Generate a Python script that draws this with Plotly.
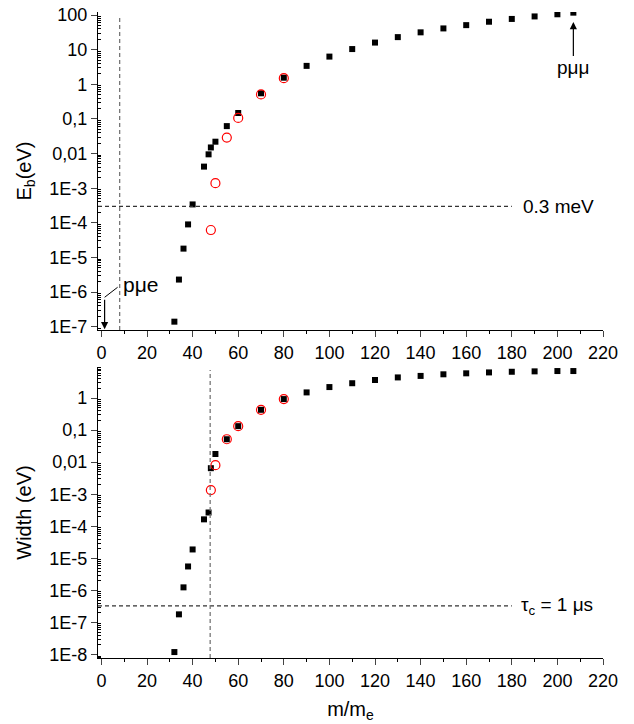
import plotly.graph_objects as go
from plotly.subplots import make_subplots

# mass ratio m/m_e
mass = [32, 34, 36, 38, 40, 45, 47, 48, 50, 55, 60, 70, 80, 90, 100, 110, 120,
        130, 140, 150, 160, 170, 180, 190, 200, 207]

# binding energy (eV), black squares
eb = [1.4e-7, 2.3e-6, 1.8e-5, 9.0e-5, 3.4e-4, 4.2e-3, 9.5e-3, 0.015, 0.022, 0.062,
      0.148, 0.55, 1.55, 3.4, 6.3, 10.4, 16, 23, 31.6, 41, 51, 64, 77, 91, 105, 117]

# width (eV), black squares
width = [1.2e-8, 1.8e-7, 1.25e-6, 5.6e-6, 1.9e-5, 1.65e-4, 2.7e-4, 6.5e-3, 0.018,
         0.052, 0.133, 0.43, 0.93, 1.5, 2.2, 2.9, 3.65, 4.4, 4.9, 5.5, 5.9, 6.3,
         6.6, 6.8, 6.95, 6.95]

# red open circles
mass_red = [48, 50, 55, 60, 70, 80]
eb_red = [6.2e-5, 1.4e-3, 0.029, 0.107, 0.51, 1.5]
width_red = [1.35e-3, 8.1e-3, 0.052, 0.133, 0.43, 0.93]

# reference lines
eb_line = 3e-4          # 0.3 meV
width_line = 3.3e-7     # tau_c = 1 mus
mass_line_top = 8
mass_line_bot = 47.7

x_ticks = [0, 20, 40, 60, 80, 100, 120, 140, 160, 180, 200, 220]
x_minor = [10, 30, 50, 70, 90, 110, 130, 150, 170, 190, 210]
top_vals = [1e-7, 1e-6, 1e-5, 1e-4, 1e-3, 0.01, 0.1, 1, 10, 100]
top_text = ["1E-7", "1E-6", "1E-5", "1E-4", "1E-3", "0,01", "0,1", "1", "10", "100"]
bot_vals = [1e-8, 1e-7, 1e-6, 1e-5, 1e-4, 1e-3, 0.01, 0.1, 1]
bot_text = ["1E-8", "1E-7", "1E-6", "1E-5", "1E-4", "1E-3", "0,01", "0,1", "1"]
minor_vals = [m * 10.0 ** k for k in range(-9, 3) for m in range(2, 10)]

FONT = "Liberation Sans, Arial, sans-serif"

fig = make_subplots(rows=2, cols=1, vertical_spacing=0.06)

fig.add_trace(go.Scatter(x=mass, y=eb, mode="markers",
                         marker=dict(symbol="square", size=6, color="black")), row=1, col=1)
fig.add_trace(go.Scatter(x=mass_red, y=eb_red, mode="markers",
                         marker=dict(symbol="circle-open", size=9, color="red",
                                     line=dict(width=1.2))), row=1, col=1)
fig.add_trace(go.Scatter(x=mass, y=width, mode="markers",
                         marker=dict(symbol="square", size=6, color="black")), row=2, col=1)
fig.add_trace(go.Scatter(x=mass_red, y=width_red, mode="markers",
                         marker=dict(symbol="circle-open", size=9, color="red",
                                     line=dict(width=1.2))), row=2, col=1)

xax = dict(range=[-1.5, 220], tickmode="array", tickvals=x_ticks, ticks="outside",
           ticklen=6, tickwidth=1.2, showline=True, linecolor="black", linewidth=1.3,
           showgrid=False, zeroline=False, tickfont=dict(size=18, color="black"),
           automargin=False,
           minor=dict(tickmode="array", tickvals=x_minor, ticks="outside", ticklen=3,
                      tickcolor="black", showgrid=False))
fig.update_xaxes(**xax)
fig.update_xaxes(domain=[0, 1])

yax = dict(type="log", ticks="outside", ticklen=6, tickwidth=1.2, showline=True,
           linecolor="black", linewidth=1.3, showgrid=False, zeroline=False,
           tickfont=dict(size=18, color="black"), tickmode="array",
           ticklabeloverflow="allow", automargin=False,
           minor=dict(tickmode="array", tickvals=minor_vals, ticks="inside", ticklen=3,
                      tickcolor="black", showgrid=False))
fig.update_yaxes(**yax)
fig.update_yaxes(domain=[0.5077, 1], range=[-7.095, 2.087], tickvals=top_vals,
                 ticktext=top_text, row=1, col=1,
                 title=dict(text="E<sub>b</sub>(eV)", font=dict(size=20), standoff=12))
fig.update_yaxes(domain=[0, 0.4505], range=[-8.106, 0.969], tickvals=bot_vals,
                 ticktext=bot_text, row=2, col=1,
                 title=dict(text="Width (eV)", font=dict(size=20), standoff=12))
fig.update_xaxes(row=2, col=1,
                 title=dict(text="m/m<sub>e</sub>", font=dict(size=20), standoff=12))

dash_h = dict(color="#333", width=1.2, dash="4px,3px")
dash_v = dict(color="#777", width=1.3, dash="4px,3px")
# top panel lines
fig.add_shape(type="line", xref="x domain", yref="y", x0=0, x1=(180 + 1.5) / 221.5,
              y0=eb_line, y1=eb_line, line=dash_h)
fig.add_shape(type="line", xref="x", yref="y domain", x0=mass_line_top, x1=mass_line_top,
              y0=0, y1=0.99, line=dash_v)
# bottom panel lines
fig.add_shape(type="line", xref="x2 domain", yref="y2", x0=0, x1=(180 + 1.5) / 221.5,
              y0=width_line, y1=width_line, line=dash_h)
fig.add_shape(type="line", xref="x2", yref="y2 domain", x0=mass_line_bot, x1=mass_line_bot,
              y0=0, y1=0.99, line=dash_v)

ann_font = dict(family=FONT, size=19, color="black")
fig.add_annotation(x=184, y=-3.52, xref="x", yref="y", text="0.3 meV", showarrow=False,
                   xanchor="left", font=ann_font)
fig.add_annotation(x=183, y=-6.48, xref="x2", yref="y2", text="τ<sub>c</sub> = 1 μs",
                   showarrow=False, xanchor="left", font=ann_font)

# p-mu-mu arrow
fig.add_annotation(x=207, y=1.80, xref="x", yref="y", text="pμμ", showarrow=True,
                   arrowhead=2, arrowsize=1.2, arrowwidth=1.2, arrowcolor="black",
                   ax=0, ay=46, font=ann_font)
# p-mu-e arrow
fig.add_annotation(x=1.4, y=-7.07, xref="x", yref="y", text=" ", showarrow=True,
                   arrowhead=2, arrowsize=1.2, arrowwidth=1.2, arrowcolor="black",
                   ax=0, ay=-32, font=dict(size=2))
fig.add_shape(type="line", xref="x", yref="y", x0=1.4, x1=7.1, y0=10 ** -6.15,
              y1=10 ** -5.86, line=dict(color="black", width=1))
fig.add_annotation(x=8.5, y=-5.78, xref="x", yref="y", text="pμe", showarrow=False,
                   xanchor="left", font=dict(family=FONT, size=21, color="black"))

fig.update_layout(width=634, height=724, showlegend=False,
                  paper_bgcolor="white", plot_bgcolor="white",
                  font=dict(family=FONT, color="black"),
                  margin=dict(l=98, r=31, t=12, b=66))

# drop the default 8px page margin so the figure fills the window
fig.write_html("out.html", config={"displayModeBar": False},
               post_script="document.body.style.margin = '0px';")
